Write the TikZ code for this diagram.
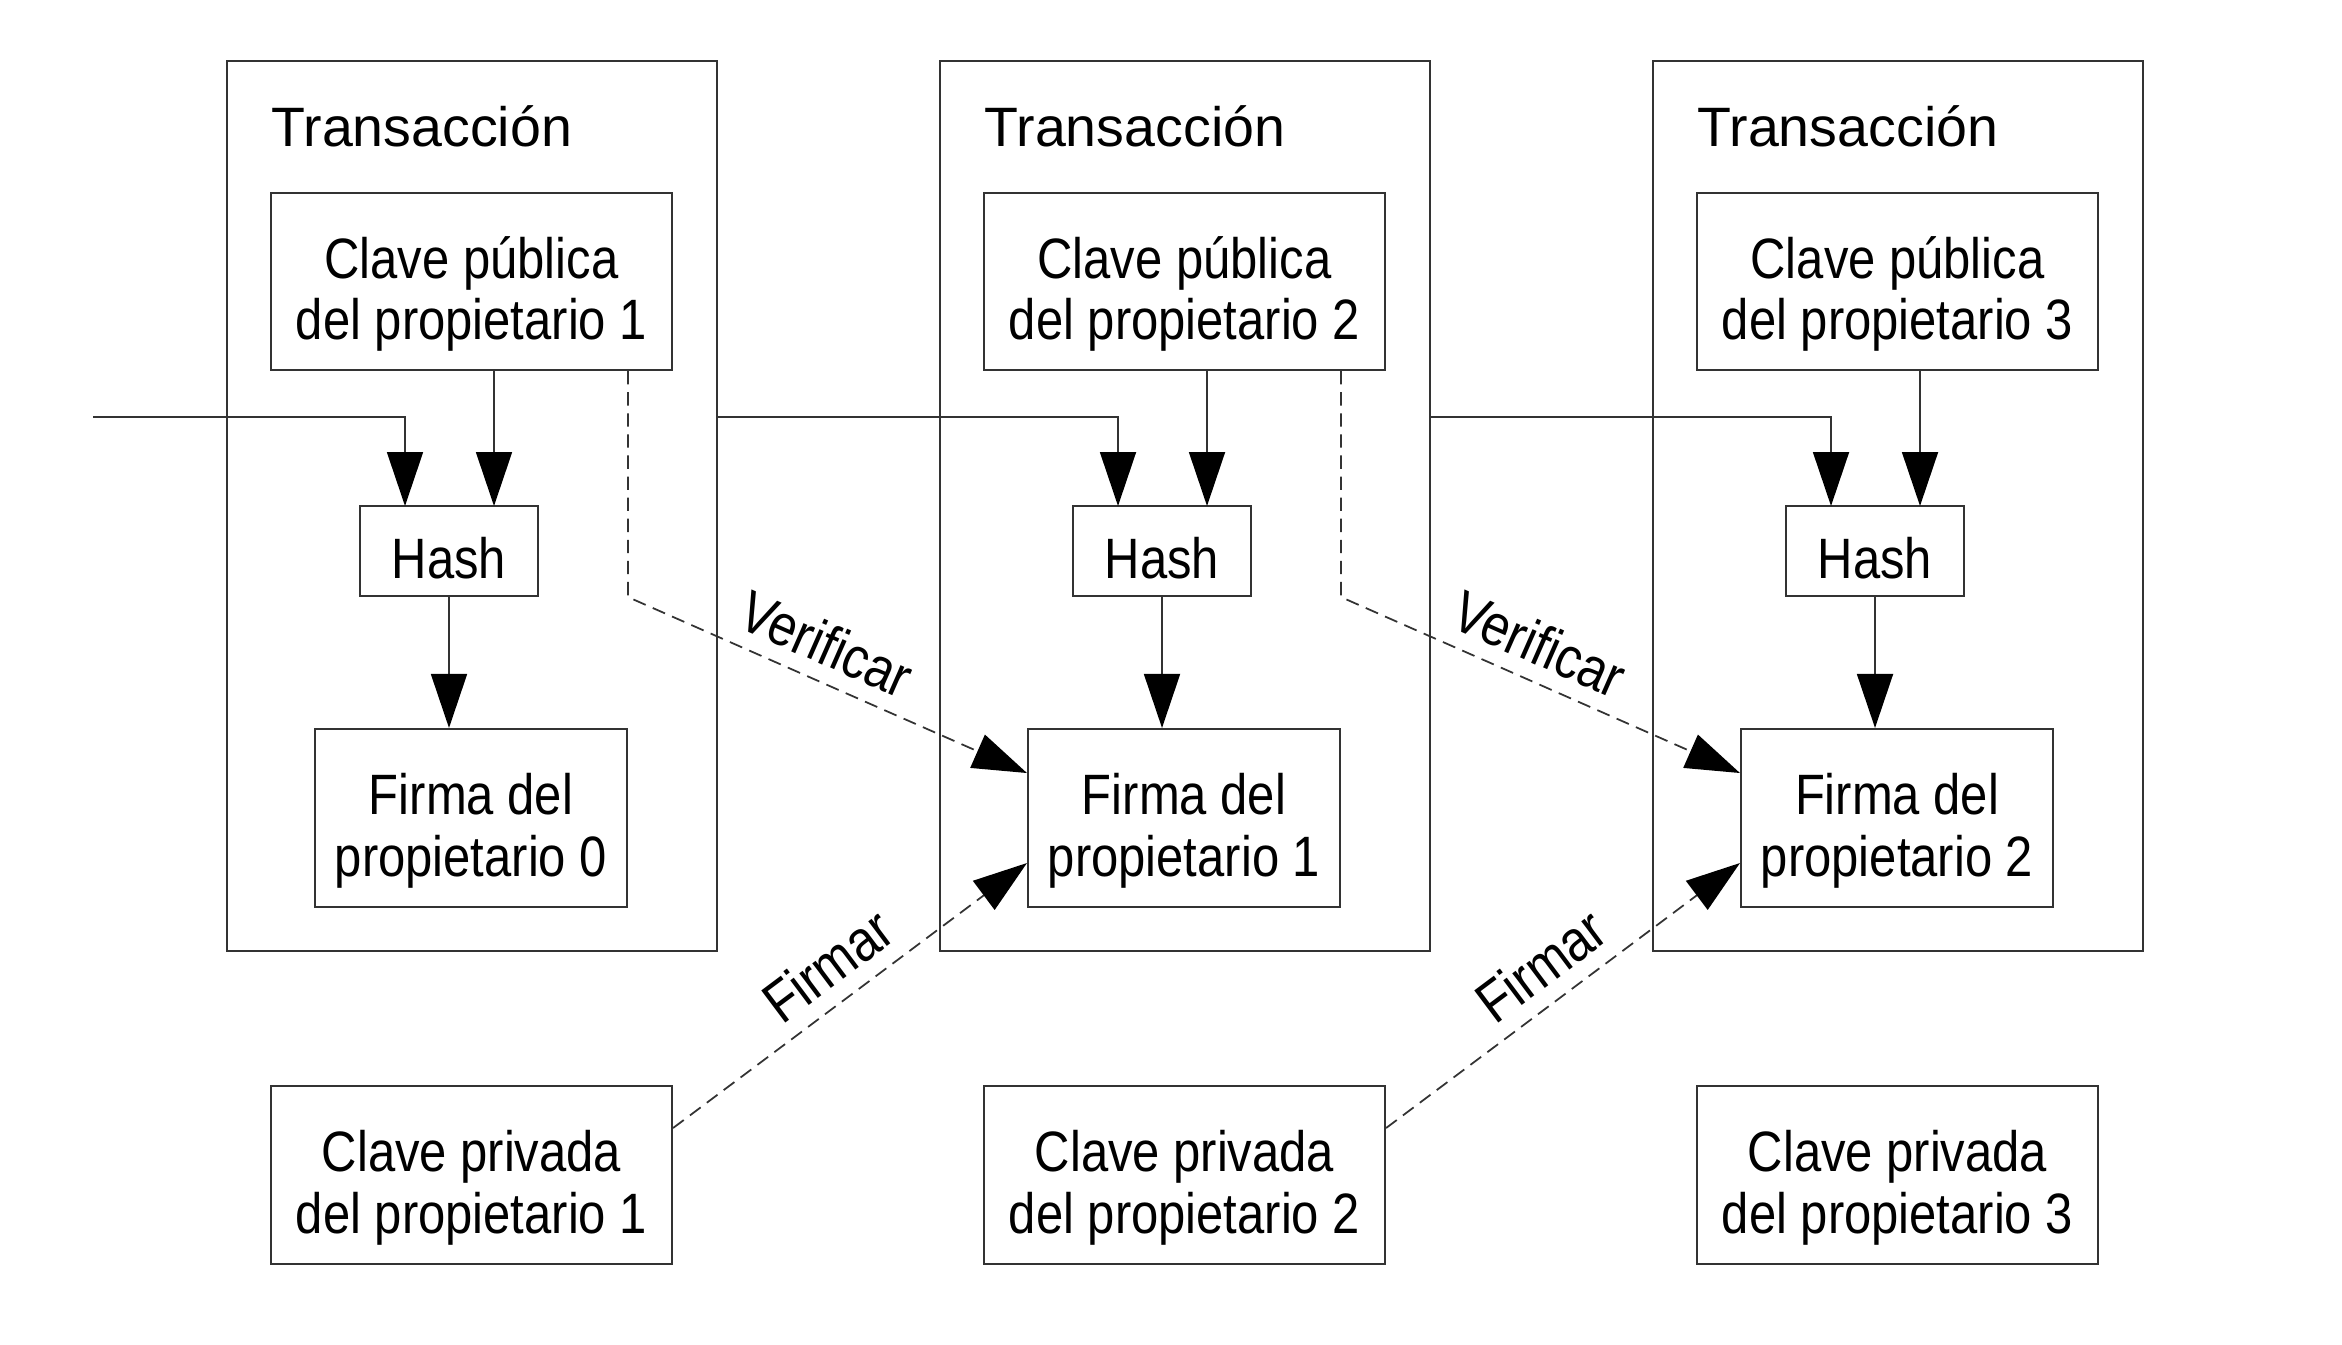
\documentclass[tikz,border=0pt]{standalone}
\usepackage{fontspec}
\setmainfont{Liberation Sans}
\newfontfamily\boxfont[FakeStretch=0.86]{Liberation Sans}
\usetikzlibrary{arrows.meta}

\begin{document}
\begin{tikzpicture}[font=\fontsize{15.8}{17.6}\selectfont,
  txbox/.style={draw=black!80, line width=0.6pt, inner sep=0pt},
  fieldbox/.style={draw=black!80, line width=0.6pt, inner sep=0pt, align=center,
    text height=1.36cm, text depth=0.2cm,
    font=\boxfont\fontsize{16.2}{17.4}\selectfont},
  hashbox/.style={fieldbox, text height=0.55cm, text depth=0cm},
  arr/.style={draw=black!80, line width=0.5pt, -{Triangle[length=5.4mm,width=3.6mm,color=black]}},
  dasharr/.style={arr, dash pattern=on 3.8pt off 2.2pt},
  lbl/.style={font=\boxfont\fontsize{16.6}{17.6}\selectfont, inner sep=1.5mm},
]

% ---------- page frame (2342 x 1344 px, 1cm = 100px) ----------
\useasboundingbox (0,0) rectangle (23.42,-13.44);

% ---------- transaction boxes ----------
\node[txbox, minimum width=4.90cm, minimum height=8.90cm] (tx0) at (4.72,-5.06) {};
\node[txbox, minimum width=4.90cm, minimum height=8.90cm] (tx1) at (11.85,-5.06) {};
\node[txbox, minimum width=4.90cm, minimum height=8.90cm] (tx2) at (18.98,-5.06) {};

\node[anchor=base west, inner sep=0pt] (title0) at (2.71,-1.46) {Transacción};
\node[anchor=base west, inner sep=0pt] (title1) at (9.84,-1.46) {Transacción};
\node[anchor=base west, inner sep=0pt] (title2) at (16.97,-1.46) {Transacción};

% ---------- public keys ----------
\node[fieldbox, minimum width=4.01cm, minimum height=1.77cm] (pub0) at (4.715,-2.815) {Clave pública\\del propietario 1};
\node[fieldbox, minimum width=4.01cm, minimum height=1.77cm] (pub1) at (11.845,-2.815) {Clave pública\\del propietario 2};
\node[fieldbox, minimum width=4.01cm, minimum height=1.77cm] (pub2) at (18.975,-2.815) {Clave pública\\del propietario 3};

% ---------- hashes ----------
\node[hashbox, minimum width=1.78cm, minimum height=0.90cm] (hash0) at (4.49,-5.51) {Hash};
\node[hashbox, minimum width=1.78cm, minimum height=0.90cm] (hash1) at (11.62,-5.51) {Hash};
\node[hashbox, minimum width=1.78cm, minimum height=0.90cm] (hash2) at (18.75,-5.51) {Hash};

% ---------- signatures ----------
\node[fieldbox, minimum width=3.12cm, minimum height=1.78cm] (sig0) at (4.71,-8.18) {Firma del\\propietario 0};
\node[fieldbox, minimum width=3.12cm, minimum height=1.78cm] (sig1) at (11.84,-8.18) {Firma del\\propietario 1};
\node[fieldbox, minimum width=3.12cm, minimum height=1.78cm] (sig2) at (18.97,-8.18) {Firma del\\propietario 2};

% ---------- private keys ----------
\node[fieldbox, minimum width=4.01cm, minimum height=1.78cm] (priv0) at (4.715,-11.75) {Clave privada\\del propietario 1};
\node[fieldbox, minimum width=4.01cm, minimum height=1.78cm] (priv1) at (11.845,-11.75) {Clave privada\\del propietario 2};
\node[fieldbox, minimum width=4.01cm, minimum height=1.78cm] (priv2) at (18.975,-11.75) {Clave privada\\del propietario 3};

% ---------- hash inputs ----------
\coordinate (start) at (0.93,-4.17);
\coordinate (hl0) at (4.05,-5.06);
\coordinate (hl1) at (11.18,-5.06);
\coordinate (hl2) at (18.31,-5.06);
\coordinate (hr0) at (4.94,-5.06);
\coordinate (hr1) at (12.07,-5.06);
\coordinate (hr2) at (19.20,-5.06);

\draw[arr] (start) -| (hl0);
\draw[arr] (tx0.east |- start) -| (hl1);
\draw[arr] (tx1.east |- start) -| (hl2);

\draw[arr] (pub0.south -| hr0) -- (hr0);
\draw[arr] (pub1.south -| hr1) -- (hr1);
\draw[arr] (pub2.south -| hr2) -- (hr2);

\draw[arr] (hash0.south) -- (hash0.south |- sig0.north);
\draw[arr] (hash1.south) -- (hash1.south |- sig1.north);
\draw[arr] (hash2.south) -- (hash2.south |- sig2.north);

% ---------- verify / sign ----------
\coordinate (vtop0) at ([xshift=15.65mm]pub0.south);
\coordinate (vtop1) at ([xshift=15.65mm]pub1.south);

\draw[dasharr] (vtop0) -- (vtop0 |- hash0.south)
  -- node[lbl, above, sloped, pos=0.46] (verify0) {Verificar} ([yshift=4.5mm]sig1.west);
\draw[dasharr] (vtop1) -- (vtop1 |- hash1.south)
  -- node[lbl, above, sloped, pos=0.46] (verify1) {Verificar} ([yshift=4.5mm]sig2.west);

\draw[dasharr] ([yshift=4.7mm]priv0.east)
  -- node[lbl, above, sloped, pos=0.5] (sign0) {Firmar} ([yshift=-4.5mm]sig1.west);
\draw[dasharr] ([yshift=4.7mm]priv1.east)
  -- node[lbl, above, sloped, pos=0.5] (sign1) {Firmar} ([yshift=-4.5mm]sig2.west);

\end{tikzpicture}
\end{document}
